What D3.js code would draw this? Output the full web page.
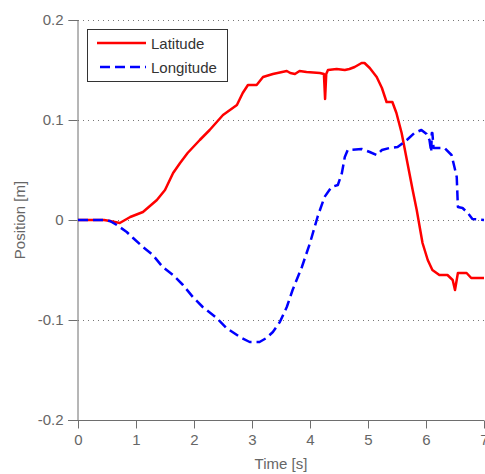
<!DOCTYPE html>
<html>
<head>
<meta charset="utf-8">
<script src="https://cdn.jsdelivr.net/npm/d3@7"></script>
<style>
  html, body { margin: 0; padding: 0; background: #fff; }
  svg { display: block; }
  text { font-family: "Liberation Sans", Arial, sans-serif; }
</style>
</head>
<body>
<svg id="chart" width="485" height="474"></svg>
<script>
// ---- data ----
const seriesNames = ["Latitude", "Longitude"];
const latT = [0, 0.45, 0.55, 0.72, 0.9, 1.12, 1.36, 1.5, 1.64, 1.76, 1.89, 2.1, 2.27, 2.5, 2.74, 2.84, 2.93, 3.08, 3.19, 3.36, 3.6, 3.66, 3.74, 3.82, 3.94, 4.17, 4.24, 4.26, 4.28, 4.31, 4.46, 4.6, 4.68, 4.77, 4.89, 4.94, 5.03, 5.15, 5.24, 5.32, 5.42, 5.49, 5.58, 5.67, 5.77, 5.84, 5.94, 6.03, 6.11, 6.23, 6.37, 6.46, 6.5, 6.55, 6.7, 6.78, 7.0];
const latV = [0, 0, -0.001, -0.003, 0.003, 0.008, 0.02, 0.03, 0.047, 0.057, 0.067, 0.08, 0.09, 0.105, 0.115, 0.127, 0.135, 0.135, 0.143, 0.146, 0.149, 0.147, 0.146, 0.149, 0.148, 0.147, 0.146, 0.121, 0.146, 0.15, 0.151, 0.15, 0.151, 0.153, 0.157, 0.157, 0.152, 0.143, 0.132, 0.118, 0.118, 0.107, 0.087, 0.06, 0.03, 0.01, -0.023, -0.04, -0.05, -0.055, -0.055, -0.06, -0.07, -0.053, -0.053, -0.058, -0.058];
const lonT = [0, 0.45, 0.55, 0.67, 0.84, 0.95, 1.12, 1.29, 1.46, 1.64, 1.81, 1.98, 2.15, 2.39, 2.56, 2.79, 2.96, 3.13, 3.25, 3.36, 3.48, 3.6, 3.7, 3.86, 4.0, 4.13, 4.25, 4.37, 4.48, 4.55, 4.6, 4.65, 4.89, 5.03, 5.15, 5.24, 5.37, 5.51, 5.67, 5.8, 5.92, 6.01, 6.06, 6.09, 6.1, 6.11, 6.13, 6.15, 6.32, 6.44, 6.49, 6.53, 6.55, 6.63, 6.72, 6.8, 7.0];
const lonV = [0, 0, -0.001, -0.005, -0.012, -0.018, -0.027, -0.035, -0.047, -0.055, -0.065, -0.077, -0.087, -0.098, -0.108, -0.117, -0.122, -0.122, -0.118, -0.112, -0.102, -0.087, -0.07, -0.047, -0.023, 0.003, 0.023, 0.033, 0.035, 0.047, 0.063, 0.07, 0.071, 0.068, 0.065, 0.07, 0.072, 0.073, 0.08, 0.087, 0.09, 0.086, 0.08, 0.068, 0.087, 0.087, 0.072, 0.072, 0.072, 0.065, 0.053, 0.043, 0.013, 0.012, 0.007, 0.001, 0];
const xTicks = [0, 1, 2, 3, 4, 5, 6, 7];
const xTickLabels = ["0", "1", "2", "3", "4", "5", "6", "7"];
const yTicks = [-0.2, -0.1, 0, 0.1, 0.2];
const yTickLabels = ["-0.2", "-0.1", "0", "0.1", "0.2"];
const xLabel = "Time [s]";
const yLabel = "Position [m]";

// ---- layout ----
const svg = d3.select("#chart");
const x = d3.scaleLinear().domain([0, 7]).range([78, 484]);
const y = d3.scaleLinear().domain([-0.2, 0.2]).range([420, 20]);
const axisColor = "#6e6e6e";
const textColor = "#666";

// grid
svg.append("g").selectAll("line")
  .data(yTicks.filter(v => v > -0.2))
  .join("line")
  .attr("x1", x(0)).attr("x2", x(7))
  .attr("y1", d => Math.round(y(d)) + 0.5).attr("y2", d => Math.round(y(d)) + 0.5)
  .attr("stroke", "#777").attr("stroke-width", 1)
  .attr("stroke-dasharray", "1,4");

// minor ticks
const yMinor = d3.range(-20, 21).map(i => i / 100);
const xMinor = d3.range(0, 36).map(i => i / 5);

const gy = svg.append("g").attr("transform", `translate(${x(0) - 0.5},0)`);
gy.call(d3.axisLeft(y).tickValues(yMinor).tickSize(4).tickFormat(""));
gy.call(d3.axisLeft(y).tickValues(yTicks).tickSize(9).tickPadding(5)
  .tickFormat((d, i) => yTickLabels[i]));
gy.selectAll("path, line").attr("stroke", axisColor);
gy.selectAll("text").attr("fill", textColor).attr("font-size", 15);

const gx = svg.append("g").attr("transform", `translate(0,${y(-0.2) + 0.5})`);
gx.call(d3.axisBottom(x).tickValues(xMinor).tickSize(4).tickFormat(""));
gx.call(d3.axisBottom(x).tickValues(xTicks).tickSize(8).tickPadding(6)
  .tickFormat((d, i) => xTickLabels[i]));
gx.selectAll("path, line").attr("stroke", axisColor);
gx.selectAll("path").attr("d", `M${x(0) - 10},0H${x(7)}`);
gx.selectAll("text").attr("fill", textColor).attr("font-size", 15);

// axis labels
svg.append("text")
  .attr("x", 281).attr("y", 469)
  .attr("text-anchor", "middle")
  .attr("fill", textColor).attr("font-size", 15)
  .text(xLabel);
svg.append("text")
  .attr("transform", `translate(25,${y(0)}) rotate(-90)`)
  .attr("text-anchor", "middle")
  .attr("fill", textColor).attr("font-size", 15)
  .text(yLabel);

// lines
const line = d3.line().x(d => x(d[0])).y(d => y(d[1]));
const latData = latT.map((t, i) => [t, latV[i]]);
const lonData = lonT.map((t, i) => [t, lonV[i]]);

svg.append("path").datum(latData)
  .attr("d", line).attr("fill", "none")
  .attr("stroke", "#ff0000").attr("stroke-width", 2.5)
  .attr("stroke-linejoin", "round");
svg.append("path").datum(lonData)
  .attr("d", line).attr("fill", "none")
  .attr("stroke", "#0000ff").attr("stroke-width", 2.5)
  .attr("stroke-dasharray", "10,5")
  .attr("stroke-linejoin", "round");

// legend
const lg = svg.append("g");
lg.append("rect")
  .attr("x", 87.5).attr("y", 29.5).attr("width", 140).attr("height", 52)
  .attr("fill", "#fff").attr("stroke", "#333").attr("stroke-width", 1);
const legendStyles = [
  { color: "#ff0000", dash: null, x1: 97 },
  { color: "#0000ff", dash: "10,5", x1: 100 }
];
seriesNames.forEach((name, i) => {
  const yy = 43 + i * 24;
  lg.append("line")
    .attr("x1", legendStyles[i].x1).attr("x2", 146)
    .attr("y1", yy).attr("y2", yy)
    .attr("stroke", legendStyles[i].color).attr("stroke-width", 2.5)
    .attr("stroke-dasharray", legendStyles[i].dash);
  lg.append("text")
    .attr("x", 151).attr("y", yy + 5.5)
    .attr("fill", "#333").attr("font-size", 15)
    .text(name);
});
</script>
</body>
</html>
